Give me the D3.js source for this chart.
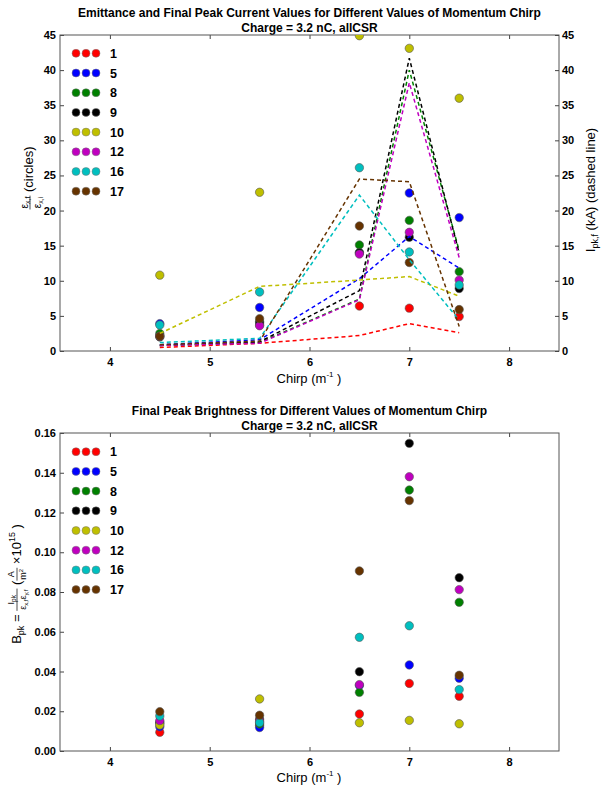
<!DOCTYPE html>
<html>
<head>
<meta charset="utf-8">
<script src="https://cdn.jsdelivr.net/npm/d3@7"></script>
<style>
  body { margin: 0; background: #fff; }
  svg { font-family: "Liberation Sans", Arial, sans-serif; }
  .ejes text { font-weight: bold; font-size: 11px; fill: #000; }
  .ejes path.domain { display: none; }
  .ejes line { stroke: #444; }
  .lab text { font-weight: normal; fill: #000; }
</style>
</head>
<body>
<div id="fig"></div>
<script>
// datos
const chirp = [4.5, 5.5, 6.5, 7, 7.5]
const series = ["1", "5", "8", "9", "10", "12", "16", "17"]
const colores = ["#ff0000", "#0000ff", "#008000", "#000000", "#bfbf00", "#bf00bf", "#00bfbf", "#663300"]

// emitancia final / inicial (circulos)
const emit_1 = [2.2, 3.7, 6.4, 6.1, 4.9]
const emit_5 = [3.9, 6.2, 14.0, 22.5, 19.0]
const emit_8 = [2.5, 4.2, 15.1, 18.6, 11.3]
const emit_9 = [2.0, 4.0, 14.0, 16.2, 8.9]
const emit_10 = [10.8, 22.6, 44.9, 43.1, 36.0]
const emit_12 = [2.1, 3.6, 13.8, 16.9, 10.1]
const emit_16 = [3.7, 8.4, 26.1, 14.1, 9.4]
const emit_17 = [2.1, 4.6, 17.8, 12.6, 5.9]

// corriente pico final kA (linea discontinua)
const ipk_1 = [0.5, 1.1, 2.2, 3.9, 2.6]
const ipk_5 = [0.9, 1.6, 10.3, 16.3, 11.8]
const ipk_8 = [0.8, 1.2, 7.4, 40.0, 14.3]
const ipk_9 = [0.8, 1.3, 8.6, 41.7, 13.9]
const ipk_10 = [2.5, 9.2, 10.1, 10.6, 7.8]
const ipk_12 = [0.8, 1.1, 7.3, 38.2, 13.3]
const ipk_16 = [1.2, 1.8, 22.2, 13.0, 4.4]
const ipk_17 = [0.9, 1.4, 24.5, 24.1, 3.5]

// brillo pico final
const bpk_1 = [0.0094, 0.0128, 0.0186, 0.0340, 0.0275]
const bpk_5 = [0.0122, 0.0118, 0.0330, 0.0433, 0.0366]
const bpk_8 = [0.0140, 0.0136, 0.0295, 0.1313, 0.0748]
const bpk_9 = [0.0145, 0.0160, 0.0399, 0.1548, 0.0872]
const bpk_10 = [0.0131, 0.0262, 0.0142, 0.0154, 0.0137]
const bpk_12 = [0.0153, 0.0150, 0.0334, 0.1380, 0.0812]
const bpk_16 = [0.0176, 0.0143, 0.0572, 0.0630, 0.0309]
const bpk_17 = [0.0198, 0.0180, 0.0906, 0.1260, 0.0381]

const xTicks = [4, 5, 6, 7, 8]
const yTopTicks = [0, 5, 10, 15, 20, 25, 30, 35, 40, 45]
const yBotTicks = [0, 0.02, 0.04, 0.06, 0.08, 0.10, 0.12, 0.14, 0.16]

const emit = [emit_1, emit_5, emit_8, emit_9, emit_10, emit_12, emit_16, emit_17]
const ipk = [ipk_1, ipk_5, ipk_8, ipk_9, ipk_10, ipk_12, ipk_16, ipk_17]
const bpk = [bpk_1, bpk_5, bpk_8, bpk_9, bpk_10, bpk_12, bpk_16, bpk_17]

const svg = d3.select("#fig").append("svg").attr("width", 602).attr("height", 790)

const left = 60, right = 559
const x = d3.scaleLinear().domain([3.5, 8.5]).range([left, right])

// texto con sub/superindices y fracciones
const put = (g, items, x0, y) => {
  let xx = x0
  items.forEach(it => {
    if (it.frac) {
      const gn = g.append("g"), gd = g.append("g")
      const wn = put(gn, it.num, 0, y + it.ny)
      const wd = put(gd, it.den, 0, y + it.dy)
      const w = Math.max(wn, wd) + 2
      gn.attr("transform", `translate(${xx + (w - wn) / 2},0)`)
      gd.attr("transform", `translate(${xx + (w - wd) / 2},0)`)
      g.append("line").attr("x1", xx).attr("x2", xx + w)
        .attr("y1", y + it.by).attr("y2", y + it.by)
        .attr("stroke", "#000").attr("stroke-width", 0.7)
      xx += w
    } else {
      const t = g.append("text").attr("x", xx).attr("y", y + (it.dy || 0))
        .style("font-size", it.fs + "px").text(it.s)
      xx += t.node().getComputedTextLength()
    }
  })
  return xx
}

const etiqueta = (cx, cy, items, rot) => {
  const g = svg.append("g").attr("class", "lab")
  const inner = g.append("g")
  const w = put(inner, items, 0, 0)
  inner.attr("transform", `translate(${-w / 2},0)`)
  g.attr("transform", `translate(${cx},${cy})` + (rot ? " rotate(-90)" : ""))
}

const panel = (top, bottom, y, ticksY, fmt, title) => {
  const clipId = "clip" + top
  svg.append("clipPath").attr("id", clipId).append("rect")
    .attr("x", left).attr("y", top).attr("width", right - left).attr("height", bottom - top)

  svg.append("text").attr("x", (left + right) / 2).attr("y", top - 18)
    .attr("text-anchor", "middle").style("font-size", "12px").style("font-weight", "bold").text(title[0])
  svg.append("text").attr("x", (left + right) / 2).attr("y", top - 3)
    .attr("text-anchor", "middle").style("font-size", "12px").style("font-weight", "bold").text(title[1])

  svg.append("g").attr("class", "ejes").attr("transform", `translate(0,${bottom})`)
    .call(d3.axisBottom(x).tickValues(xTicks).tickSize(-4).tickPadding(7).tickFormat(d3.format("d")))
  svg.append("g").attr("class", "ejes").attr("transform", `translate(0,${top})`)
    .call(d3.axisTop(x).tickValues(xTicks).tickSize(-4).tickFormat(""))
  svg.append("g").attr("class", "ejes").attr("transform", `translate(${left},0)`)
    .call(d3.axisLeft(y).tickValues(ticksY).tickSize(-4).tickPadding(4).tickFormat(fmt))
  svg.append("rect").attr("x", left).attr("y", top).attr("width", right - left).attr("height", bottom - top)
    .attr("fill", "none").attr("stroke", "#555").attr("stroke-width", 1)
  return clipId
}

const puntos = (clipId, y, datos) => {
  const g = svg.append("g").attr("clip-path", `url(#${clipId})`)
  datos.forEach((serie, i) => {
    g.selectAll(null).data(serie).enter().append("circle")
      .attr("cx", (d, j) => x(chirp[j])).attr("cy", d => y(d)).attr("r", 4.2)
      .attr("fill", colores[i]).attr("stroke", "#555").attr("stroke-width", 0.6)
  })
}

const leyenda = (y0) => {
  series.forEach((s, i) => {
    const yy = y0 + i * 19.7
    svg.selectAll(null).data([76, 86, 96]).enter().append("circle")
      .attr("cx", d => d).attr("cy", yy).attr("r", 4)
      .attr("fill", colores[i]).attr("stroke", "#777").attr("stroke-width", 0.5)
    svg.append("text").attr("x", 110).attr("y", yy + 4.5)
      .style("font-size", "12.5px").style("font-weight", "bold").text(s)
  })
}

// ---- grafica superior ----
const yTop = d3.scaleLinear().domain([0, 45]).range([351, 35])
const c1 = panel(35, 351, yTop, yTopTicks, d3.format("d"),
  ["Emittance and Final Peak Current Values for Different Values of Momentum Chirp", "Charge = 3.2 nC, allCSR"])
svg.append("g").attr("class", "ejes").attr("transform", `translate(${right},0)`)
  .call(d3.axisRight(yTop).tickValues(yTopTicks).tickSize(-4).tickPadding(3).tickFormat(d3.format("d")))
puntos(c1, yTop, emit)

const linea = d3.line().x((d, j) => x(chirp[j])).y(d => yTop(d))
const gl = svg.append("g").attr("clip-path", `url(#${c1})`)
ipk.forEach((serie, i) => {
  gl.append("path").attr("d", linea(serie)).attr("fill", "none")
    .attr("stroke", colores[i]).attr("stroke-width", 1.5).attr("stroke-dasharray", "4,3")
})
leyenda(53.3)

// ---- grafica inferior ----
const yBot = d3.scaleLinear().domain([0, 0.16]).range([751, 433])
const c2 = panel(433, 751, yBot, yBotTicks, d3.format(".2f"),
  ["Final Peak Brightness for Different Values of Momentum Chirp", "Charge = 3.2 nC, allCSR"])
puntos(c2, yBot, bpk)
leyenda(451.7)

// ---- etiquetas de ejes ----
const xlab = [{ s: "Chirp (m", fs: 13 }, { s: "-1", fs: 8, dy: -6 }, { s: "\u00a0)", fs: 13 }]
etiqueta(309, 383, xlab, false)
etiqueta(309, 782, xlab, false)

etiqueta(33, 178, [
  { frac: true, ny: -5, dy: 8, by: -3,
    num: [{ s: "ε", fs: 10 }, { s: "x,f", fs: 7, dy: 2 }],
    den: [{ s: "ε", fs: 10 }, { s: "x,i", fs: 7, dy: 2 }] },
  { s: "\u00a0(circles)", fs: 13 }
], true)

etiqueta(595, 190, [
  { s: "I", fs: 13 }, { s: "pk,f", fs: 9, dy: 3 }, { s: "\u00a0(kA) (dashed line)", fs: 13 }
], true)

etiqueta(21, 584, [
  { s: "B", fs: 13 }, { s: "pk", fs: 9, dy: 3 }, { s: "\u00a0=\u00a0", fs: 13 },
  { frac: true, ny: -7, dy: 5, by: -4,
    num: [{ s: "I", fs: 9 }, { s: "pk", fs: 6.5, dy: 2 }],
    den: [{ s: "ε", fs: 9 }, { s: "x,f", fs: 6, dy: 2 }, { s: "ε", fs: 9 }, { s: "y,f", fs: 6, dy: 2 }] },
  { s: "\u00a0(", fs: 13 },
  { frac: true, ny: -7, dy: 5, by: -4,
    num: [{ s: "A", fs: 9 }],
    den: [{ s: "m", fs: 9 }, { s: "2", fs: 6, dy: -3 }] },
  { s: "\u00a0×10", fs: 13 }, { s: "15", fs: 9, dy: -6 }, { s: "\u00a0)", fs: 13 }
], true)
</script>
</body>
</html>
